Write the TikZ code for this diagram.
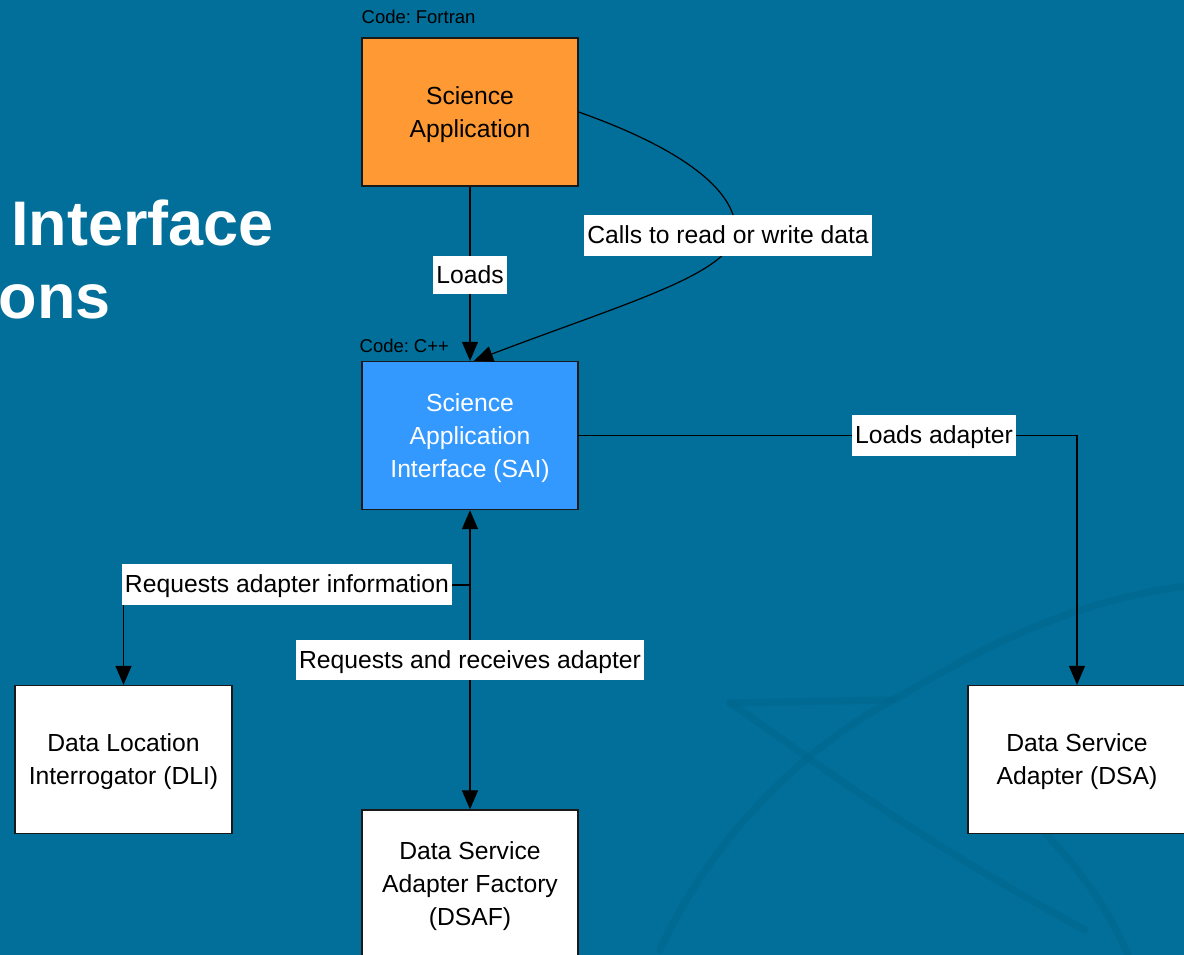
\documentclass[tikz,border=0pt]{standalone}
\usepackage{fontspec}
\setmainfont{Liberation Sans}
\usetikzlibrary{arrows.meta}

\definecolor{slidebg}{RGB}{1,111,153}
\definecolor{slidemark}{RGB}{0,98,138}
\definecolor{saorange}{RGB}{255,153,51}
\definecolor{saiblue}{RGB}{51,153,255}
\definecolor{boxline}{RGB}{25,25,25}

\tikzset{
  bodytext/.style={font=\fontsize{24.7}{33}\selectfont},
  module/.style={bodytext, draw=boxline, line width=1.3pt, minimum width=216pt,
    minimum height=148pt, inner sep=0pt, align=center, text depth=0pt},
  tag/.style={bodytext, fill=white, text=black, inner xsep=3pt, inner ysep=0pt,
    minimum height=41pt, text height=19pt, text depth=3pt},
  codetag/.style={font=\fontsize{18.5}{22}\selectfont, anchor=base west, inner sep=0pt},
  headline/.style={font=\fontsize{63}{70}\bfseries\selectfont, text=white,
    anchor=base west, inner sep=0pt},
  conn/.style={draw=black, line width=1.2pt, -{Triangle[length=19pt,width=16pt]}},
  conn2/.style={draw=black, line width=1.2pt,
    {Triangle[length=19pt,width=16pt]}-{Triangle[length=19pt,width=16pt]}},
  watermark/.style={draw=slidemark, line width=7pt, line cap=round, opacity=0.35},
}

\begin{document}
\begin{tikzpicture}[x=1pt,y=-1pt]
  \useasboundingbox (0,0) rectangle (1184,955);
  \clip (0,0) rectangle (1184,955);
  \fill[slidebg] (0,0) rectangle (1184,955);

  % faint emblem in the slide background
  \draw[watermark] (730,703) -- (893,700) .. controls (960,662) and (1060,600) .. (1195,585);
  \draw[watermark] (730,703) .. controls (800,750) and (900,830) .. (1085,930);
  \draw[watermark] (660,950) .. controls (710,840) and (800,750) .. (893,700);
  \draw[watermark] (1045,833) .. controls (1080,870) and (1110,910) .. (1130,960);

  % slide title (partly off the left edge)
  \node[headline] (title1) at (11,245) {Interface};
  \node[headline] (title2) at (-1.5,318) {ons};

  % modules
  \node[module, fill=saorange, text=black] (sa) at (470,112) {Science\\Application};
  \node[module, fill=saiblue, text=white] (sai) at (470,435.5)
    {Science\\Application\\Interface (SAI)};
  \node[module, fill=white, text=black, minimum width=217pt] (dli) at (123.5,759.5)
    {Data Location\\Interrogator (DLI)};
  \node[module, fill=white, text=black] (dsaf) at (470,884)
    {Data Service\\Adapter Factory\\(DSAF)};
  \node[module, fill=white, text=black, minimum width=218pt] (dsa) at (1077,759.5)
    {Data Service\\Adapter (DSA)};

  % code language notes
  \node[codetag] (codef) at (361.5,24) {Code:\hspace{-2pt} Fortran};
  \node[codetag] (codec) at (359.5,352.5) {Code:\hspace{-2pt} C++};

  % connectors
  \coordinate (callbend) at (735,235);
  \coordinate (branch) at (470,585);
  \draw[conn] (sa) -- (sai);
  \draw[conn] (sa.east) .. controls (700,155) and (740,200) .. (callbend)
    .. controls (728,275) and (620,305) .. ([xshift=4pt]sai.north);
  \draw[conn] (sai.east) -| (dsa.north);
  \draw[conn2] (dsaf.north) -- (sai.south);
  \draw[conn] (branch) -| (dli.north);

  % connector labels
  \node[tag, minimum height=38pt] (lblloads) at (470,275) {Loads};
  \node[tag] (lblcalls) at (728,235) {Calls to read or write data};
  \node[tag] (lbladapter) at (934,435) {Loads adapter};
  \node[tag] (lblinfo) at (287,584) {Requests adapter information};
  \node[tag, minimum height=40pt] (lblrecv) at (470,660) {Requests and receives adapter};
\end{tikzpicture}
\end{document}
